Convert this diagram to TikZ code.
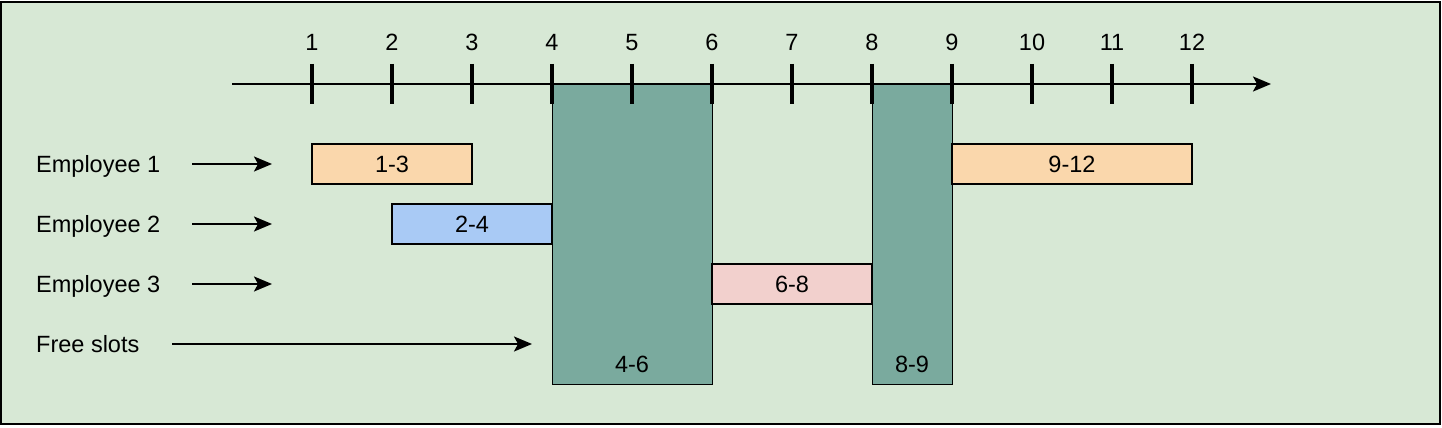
\documentclass[tikz,border=0pt]{standalone}
\usepackage{fontspec}
\setmainfont{Liberation Sans}
\usetikzlibrary{arrows.meta}
\definecolor{bgc}{RGB}{215,232,213}
\definecolor{slotc}{RGB}{122,170,158}
\definecolor{orangec}{RGB}{250,215,172}
\definecolor{bluec}{RGB}{169,202,245}
\definecolor{pinkc}{RGB}{242,208,205}
\tikzset{
  lbl/.style={font=\fontsize{23.5}{28}\selectfont, inner sep=0pt},
  shift box/.style={draw=black, line width=2pt, inner sep=0pt, minimum height=40pt, font=\fontsize{23.5}{28}\selectfont},
  slot/.style={draw=black, line width=1pt, fill=slotc},
  arr/.style={line width=2pt, -{Stealth[length=18pt,width=15pt,inset=4pt]}},
  tick/.style={line width=4pt},
}
\begin{document}
\begin{tikzpicture}[x=1pt,y=-1pt]
\useasboundingbox (0,0) rectangle (1442,428);
\draw[line width=2pt, fill=bgc] (1,2) rectangle (1440,424);
% free slot rectangles
\draw[slot] (552,84) rectangle (712,384);
\draw[slot] (872,84) rectangle (952,384);
\node[lbl] (f46) at (632,364) {4-6};
\node[lbl] (f89) at (912,364) {8-9};
% shift boxes
\node[shift box, fill=orangec, minimum width=160pt] (s13) at (392,164) {1-3};
\node[shift box, fill=orangec, minimum width=240pt] (s912) at (1072,164) {9-12};
\node[shift box, fill=bluec, minimum width=160pt] (s24) at (472,224) {2-4};
\node[shift box, fill=pinkc, minimum width=160pt] (s68) at (792,284) {6-8};
% axis
\coordinate (ax0) at (232,84);
\coordinate (ax1) at (1271,84);
\draw[arr] (ax0) -- (ax1);
\foreach \i in {1,...,12}{
  \draw[tick] ({232+80*\i},64) -- ({232+80*\i},104);
  \node[lbl, anchor=base] (t\i) at ({232+80*\i},51) {\i};
}
% labels and arrows
\node[lbl, anchor=base west] (e1) at (36,172) {Employee 1};
\node[lbl, anchor=base west] (e2) at (36,232) {Employee 2};
\node[lbl, anchor=base west] (e3) at (36,292) {Employee 3};
\node[lbl, anchor=base west] (fs) at (36,352) {Free slots};
\coordinate (a1s) at (192,164); \coordinate (a1e) at (272,164);
\coordinate (a2s) at (192,224); \coordinate (a2e) at (272,224);
\coordinate (a3s) at (192,284); \coordinate (a3e) at (272,284);
\coordinate (a4s) at (172,344); \coordinate (a4e) at (532,344);
\draw[arr] (a1s) -- (a1e);
\draw[arr] (a2s) -- (a2e);
\draw[arr] (a3s) -- (a3e);
\draw[arr] (a4s) -- (a4e);
\end{tikzpicture}
\end{document}
